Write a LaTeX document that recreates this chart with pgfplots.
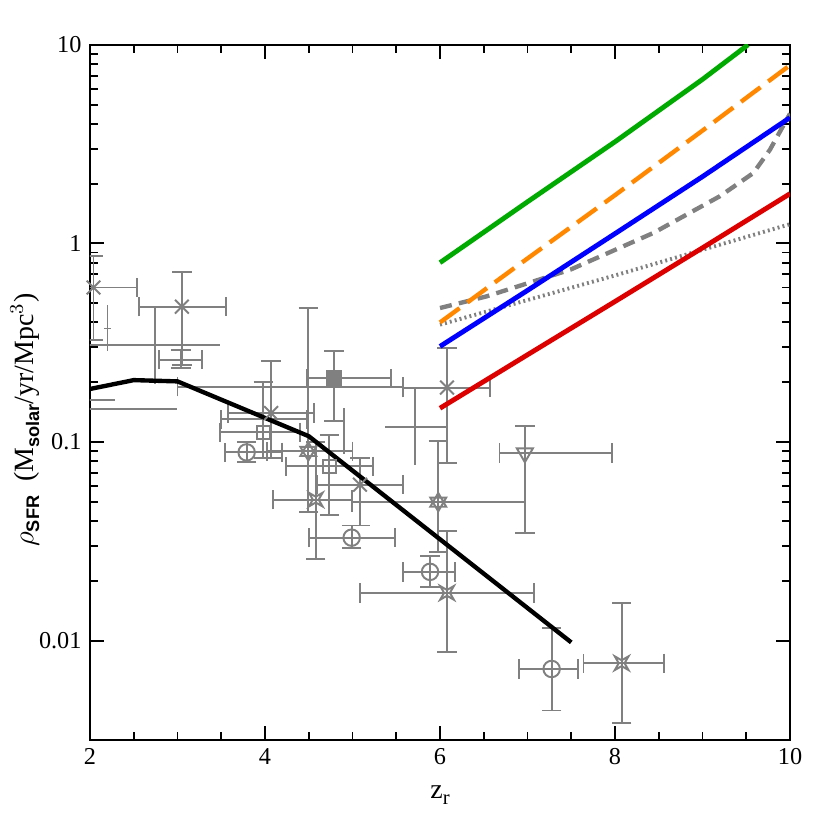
\documentclass[border=0pt]{standalone}
\usepackage{fontspec}
\setmainfont{Liberation Serif}
\setsansfont{Liberation Sans}
\usepackage{pgfplots}
\pgfplotsset{compat=1.18}

\definecolor{ptgray}{RGB}{128,128,128}
\definecolor{lgreen}{RGB}{0,170,0}
\definecolor{lorange}{RGB}{255,136,0}
\definecolor{lblue}{RGB}{0,0,255}
\definecolor{lred}{RGB}{220,0,0}

% open six-pointed star
\pgfdeclareplotmark{hexa}{%
  \pgfpathmoveto{\pgfpointpolar{90}{\pgfplotmarksize}}%
  \pgfpathlineto{\pgfpointpolar{210}{\pgfplotmarksize}}%
  \pgfpathlineto{\pgfpointpolar{330}{\pgfplotmarksize}}%
  \pgfpathclose
  \pgfpathmoveto{\pgfpointpolar{270}{\pgfplotmarksize}}%
  \pgfpathlineto{\pgfpointpolar{30}{\pgfplotmarksize}}%
  \pgfpathlineto{\pgfpointpolar{150}{\pgfplotmarksize}}%
  \pgfpathclose
  \pgfusepathqstroke}
% open concave four-pointed star
\pgfdeclareplotmark{cstar}{%
  \pgfpathmoveto{\pgfpointpolar{45}{\pgfplotmarksize}}%
  \pgfpathlineto{\pgfpointpolar{90}{0.3\pgfplotmarksize}}%
  \pgfpathlineto{\pgfpointpolar{135}{\pgfplotmarksize}}%
  \pgfpathlineto{\pgfpointpolar{180}{0.3\pgfplotmarksize}}%
  \pgfpathlineto{\pgfpointpolar{225}{\pgfplotmarksize}}%
  \pgfpathlineto{\pgfpointpolar{270}{0.3\pgfplotmarksize}}%
  \pgfpathlineto{\pgfpointpolar{315}{\pgfplotmarksize}}%
  \pgfpathlineto{\pgfpointpolar{0}{0.3\pgfplotmarksize}}%
  \pgfpathclose
  \pgfusepathqstroke}
% invisible mark, for bars drawn without a symbol
\pgfdeclareplotmark{nomark}{}

\pgfplotsset{
  errs/.style={only marks, ptgray,
    error bars/x dir=both, error bars/y dir=both,
    error bars/x explicit, error bars/y explicit,
    error bars/error bar style={ptgray, line width=0.8pt, solid},
    error bars/error mark=-,
    error bars/error mark options={rotate=90, ptgray, line width=0.8pt, solid, mark size=4pt}},
  errsnc/.style={only marks, ptgray,
    error bars/x dir=both, error bars/y dir=both,
    error bars/x explicit, error bars/y explicit,
    error bars/error bar style={ptgray, line width=0.8pt, solid},
    error bars/error mark=none},
}

\newcommand{\sub}[1]{\raisebox{-0.45ex}{\sffamily\bfseries\fontsize{7.5}{8}\selectfont #1}}

\begin{document}
\begin{tikzpicture}
\useasboundingbox (-1.305cm,-1.305cm) rectangle (10.73cm,10.73cm);
\begin{axis}[
    scale only axis,
    width=10.15cm, height=10.08cm,
    xmin=2, xmax=10,
    ymode=log, ymin=0.00316, ymax=10,
    xtick={2,4,6,8,10},
    minor x tick num=3,
    ytick={0.01,0.1,1,10},
    yticklabels={0.01,0.1,1,10},
    tick pos=both, tick align=inside,
    major tick length=0.2cm, minor tick length=0.12cm,
    every tick/.style={black, line width=0.8pt},
    axis line style={line width=0.9pt},
    tick label style={font=\fontsize{10}{12}\selectfont},
    /pgf/number format/assume math mode=true,
    xlabel={z\raisebox{-0.45ex}{\fontsize{8.5}{9}\selectfont r}},
    ylabel={$\rho$\sub{SFR}\ \ (M\sub{solar}/yr/Mpc$^{3}$)},
    label style={font=\fontsize{11.5}{13}\selectfont},
    xlabel style={at={(axis description cs:0.5,-0.079)}, anchor=center},
    ylabel style={at={(axis description cs:-0.093,0.46)}, anchor=center},
    every axis plot/.append style={line width=0.8pt},
]
% --- observational points, grey with error bars ---
\addplot[errs, mark=x, mark size=4pt] coordinates {
    (2.04,0.60)   += (0.50,0.267) -= (0.54,0.273)
    (3.05,0.48)   += (0.50,0.238) -= (0.49,0.237)
    (4.07,0.14)   += (0.49,0.115) -= (0.49,0.057)
    (5.086,0.061) += (0.494,0.022) -= (0.486,0.023)
    (6.08,0.188)  += (0.49,0.109) -= (0.50,0.110)
};
\addplot[errs, mark=o, mark size=3.4pt] coordinates {
    (3.79,0.0887)  += (0.40,0.0113) -= (0.25,0.0093)
    (4.99,0.033)   += (0.50,0.005)  -= (0.49,0.0037)
    (5.886,0.0222) += (0.284,0.0044) -= (0.306,0.0036)
    (7.276,0.0072) += (0.304,0.0044) -= (0.369,0.00275)
};
\addplot[errs, mark=square, mark size=2.6pt] coordinates {
    (3.98,0.112)   += (0.42,0.088)  -= (0.49,0.029)
    (4.735,0.0755) += (0.495,0.0325) -= (0.495,0.0325)
};
\addplot[errs, mark=square*, mark size=3pt] coordinates {
    (4.79,0.209) += (0.65,0.079) -= (0.31,0.082)
};
\addplot[errs, mark=hexa, mark size=3.8pt] coordinates {
    (4.495,0.0897) += (0.505,0.385) -= (0.475,0.0454)
    (5.98,0.0498)  += (0.99,0.0512) -= (0.99,0.0218)
};
\addplot[errs, mark=cstar, mark size=4pt] coordinates {
    (4.58,0.0513) += (0.41,0.0487) -= (0.49,0.0256)
    (6.08,0.0174) += (0.99,0.0182) -= (0.99,0.0086)
    (8.076,0.0077) += (0.484,0.0077) -= (0.436,0.00384)
};
\addplot[errs, mark=triangle, mark size=3.8pt, mark options={rotate=180}] coordinates {
    (6.97,0.088) += (1.00,0.032) -= (0.29,0.0532)
};
\addplot[errs, mark=nomark] coordinates {
    (3.04,0.26) += (0.24,0.03) -= (0.25,0.025)
    (4.0,0.13)  += (0.48,0)    -= (0.50,0)
    (4.3,0.19)  += (1.28,0)    -= (1.30,0)
};
\addplot[errsnc, mark=nomark] coordinates {
    (2.74,0.307) += (0.75,0.173) -= (1.14,0.112)
    (2.2,0.373)  += (0.04,0.117) -= (0.04,0.087)
    (1.9,0.163)  += (0.39,0)     -= (0.40,0)
    (1.9,0.147)  += (1.09,0)     -= (0.40,0)
    (4.9,0.11)   += (0,0.039)    -= (0,0.023)
    (5.71,0.119) += (0.37,0.065) -= (0.34,0.042)
};

% --- model curves ---
\addplot[black, line width=1.8pt, no marks] coordinates {
    (2,0.185) (2.5,0.205) (3,0.202) (4.5,0.107) (7.5,0.0098)};
\addplot[ptgray, line width=1.6pt, no marks, dash pattern=on 0.8pt off 1.3pt] coordinates {
    (6,0.39) (8,0.69) (10,1.25)};
\addplot[ptgray, line width=1.8pt, no marks, dash pattern=on 5pt off 3pt] coordinates {
    (6,0.473) (6.53,0.541) (7.49,0.738) (8.44,1.13) (9.2,1.73) (9.58,2.26) (9.77,2.96) (9.94,4.04) (10,4.5)};
\addplot[lred, line width=2pt, no marks] coordinates {
    (6,0.148) (7,0.275) (8,0.51) (9,0.95) (10,1.78)};
\addplot[lblue, line width=2pt, no marks] coordinates {
    (6,0.303) (7,0.58) (8,1.12) (9,2.17) (10,4.3)};
\addplot[lorange, line width=1.8pt, no marks, dash pattern=on 10pt off 4pt] coordinates {
    (6,0.40) (7,0.84) (8,1.75) (9,3.7) (10,7.9)};
\addplot[lgreen, line width=2pt, no marks] coordinates {
    (6,0.80) (7,1.62) (8,3.25) (9,6.7) (9.52,10)};
\end{axis}
\end{tikzpicture}
\end{document}
